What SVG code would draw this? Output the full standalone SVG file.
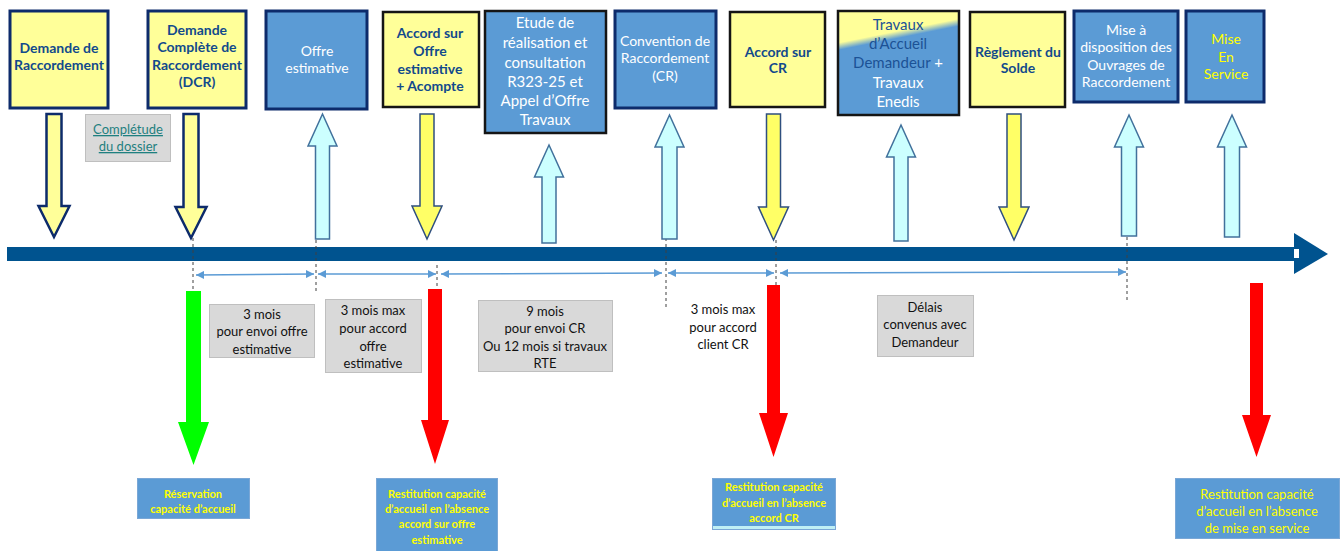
<svg xmlns="http://www.w3.org/2000/svg" width="1341" height="551" viewBox="0 0 1341 551">
<style>
text{font-family:Lato,"Liberation Sans",sans-serif;text-anchor:middle}
.yb{fill:#FFFF99;stroke:#0D2B6B;stroke-width:3}
.yb2{fill:#FFFF99;stroke:#151515;stroke-width:2.5}
.bb{fill:#5B9BD5;stroke:#0D2B6B;stroke-width:3}
.bb2{fill:#5B9BD5;stroke:#151515;stroke-width:2.5}
.tn{font-size:14px;font-weight:bold;fill:#124A8C}
.tw{font-size:14px;fill:#FFFFFF}
.ty{font-size:14px;fill:#FFFF00}
.dy1{fill:#FFFF99;stroke:#0D2B6B;stroke-width:2.5}
.dy2{fill:#FFFF66;stroke:#2F4F7F;stroke-width:1.5}
.uc{fill:#CCFFFF;stroke:#41719C;stroke-width:1.5}
.gray{fill:#D9D9D9;stroke:#BFBFBF;stroke-width:1}
.tg{font-size:13px;fill:#111111}
.dash{stroke:#404040;stroke-width:1;stroke-dasharray:3 3;fill:none}
.meas{stroke:#5B9BD5;stroke-width:1.5;fill:none;marker-start:url(#ah);marker-end:url(#ah)}
.rb{fill:#5B9BD5;stroke:#7AA7D6;stroke-width:1}
.tyb{font-size:11px;font-weight:bold;fill:#FFFF00}
</style>
<defs>
<marker id="ah" viewBox="0 0 10 10" refX="10" refY="5" markerWidth="8" markerHeight="8" markerUnits="userSpaceOnUse" orient="auto-start-reverse">
<path d="M0,0 L10,5 L0,10 Z" fill="#5B9BD5"/>
</marker>
<linearGradient id="trv" gradientUnits="userSpaceOnUse" x1="896" y1="24" x2="900" y2="44">
<stop offset="0" stop-color="#FFFF99"/>
<stop offset="0.35" stop-color="#FFFF99"/>
<stop offset="0.7" stop-color="#5B9BD5"/>
<stop offset="1" stop-color="#5B9BD5"/>
</linearGradient>
</defs>

<g id="timeline">
<rect x="7" y="247" width="1289" height="14" fill="#00538F"/>
<polygon points="1294,233 1328,254 1294,274" fill="#00538F"/>
<rect x="1294" y="249" width="5" height="9" fill="#FFFFFF"/>
</g>

<g id="connectors">
<line class="dash" x1="193" y1="238" x2="193" y2="290"/>
<line class="dash" x1="316" y1="240" x2="316" y2="292"/>
<line class="dash" x1="437" y1="265" x2="437" y2="290"/>
<line class="dash" x1="666" y1="238" x2="666" y2="309"/>
<line class="dash" x1="776" y1="240" x2="776" y2="285"/>
<line class="dash" x1="1127" y1="237" x2="1127" y2="301"/>
<line class="meas" x1="196" y1="275" x2="314" y2="274"/>
<line class="meas" x1="318" y1="274" x2="436" y2="274"/>
<line class="meas" x1="441" y1="274" x2="662" y2="273"/>
<line class="meas" x1="668" y1="273" x2="774" y2="273"/>
<line class="meas" x1="780" y1="273" x2="1126" y2="272"/>
<path class="dy1" d="M46.5,114 H61.5 V206 H69.5 L54,237 L38.5,206 H46.5 Z"/>
<path class="dy1" d="M183.5,114 H198.5 V207 H206.5 L191,238 L175.5,207 H183.5 Z"/>
<path class="uc" d="M322.5,114 L337,146 H329.5 V239 H315.5 V146 H308 Z"/>
<path class="dy2" d="M420,114 H434 V206 H442 L427,239 L412,206 H420 Z"/>
<path class="uc" d="M549,145 L563.5,177 H556 V243 H542 V177 H534.5 Z"/>
<path class="uc" d="M669.5,115 L684,147 H677 V239 H662 V147 H655 Z"/>
<path class="dy2" d="M766.5,114 H780.5 V207 H788.5 L773.5,240 L758.5,207 H766.5 Z"/>
<path class="uc" d="M901,125 L915.5,157 H908 V241 H894 V157 H886.5 Z"/>
<path class="dy2" d="M1007,114 H1021 V207 H1029 L1014,240 L999,207 H1007 Z"/>
<path class="uc" d="M1129,115 L1143.5,147 H1136.5 V236 H1121.5 V147 H1114.5 Z"/>
<path class="uc" d="M1232,115 L1246.5,147 H1239.5 V237 H1224.5 V147 H1217.5 Z"/>
<path fill="#00FF00" d="M186,291 H201 V422 H209 L193.5,465 L178,422 H186 Z"/>
<path fill="#FF0000" d="M428,289 H442 V420 H449 L435,464 L421,420 H428 Z"/>
<path fill="#FF0000" d="M767,285 H780 V413 H788 L773.5,457 L759,413 H767 Z"/>
<path fill="#FF0000" d="M1250,283 H1263 V415 H1271 L1256.5,457 L1242,415 H1250 Z"/>
</g>

<g id="n1">
<rect class="yb" x="10" y="11" width="98" height="97"/>
<text class="tn" x="59" y="53">Demande de</text>
<text class="tn" x="59" y="70">Raccordement</text>
</g>
<g id="n2">
<rect class="yb" x="148" y="11" width="98" height="97"/>
<text class="tn" x="197" y="35">Demande</text>
<text class="tn" x="197" y="52">Complète de</text>
<text class="tn" x="197" y="70">Raccordement</text>
<text class="tn" x="197" y="87">(DCR)</text>
</g>
<g id="n3">
<rect class="bb" x="266" y="11" width="101" height="98"/>
<text class="tw" x="317" y="56">Offre</text>
<text class="tw" x="317" y="73">estimative</text>
</g>
<g id="n4">
<rect class="yb2" x="383" y="12" width="96" height="95"/>
<text class="tn" x="430" y="38">Accord sur</text>
<text class="tn" x="430" y="56">Offre</text>
<text class="tn" x="430" y="74">estimative</text>
<text class="tn" x="430" y="91">+ Acompte</text>
</g>
<g id="n5">
<rect class="bb2" x="485" y="11" width="121" height="122"/>
<text class="tw" x="545" y="28" style="font-size:15px">Etude de</text>
<text class="tw" x="545" y="48" style="font-size:15px">réalisation et</text>
<text class="tw" x="545" y="68" style="font-size:15px">consultation</text>
<text class="tw" x="545" y="87" style="font-size:15px">R323-25 et</text>
<text class="tw" x="545" y="106" style="font-size:15px">Appel d’Offre</text>
<text class="tw" x="545" y="125" style="font-size:15px">Travaux</text>
</g>
<g id="n6">
<rect class="bb" x="615" y="11" width="101" height="97"/>
<text class="tw" x="665" y="46">Convention de</text>
<text class="tw" x="665" y="63">Raccordement</text>
<text class="tw" x="665" y="81">(CR)</text>
</g>
<g id="n7">
<rect class="yb2" x="730" y="12" width="95" height="95"/>
<text class="tn" x="778" y="57">Accord sur</text>
<text class="tn" x="778" y="73">CR</text>
</g>
<g id="n8">
<rect x="838" y="11" width="121" height="104" fill="url(#trv)" stroke="#151515" stroke-width="2.5"/>
<text x="898" y="30" style="font-size:15px;fill:#1B5296">Travaux</text>
<text x="898" y="49" style="font-size:15px;fill:#1B5296">d’Accueil</text>
<text x="898" y="68" style="font-size:15px;fill:#1B5296">Demandeur <tspan fill="#FFFFFF">+</tspan></text>
<text class="tw" x="898" y="88" style="font-size:15px">Travaux</text>
<text class="tw" x="898" y="107" style="font-size:15px">Enedis</text>
</g>
<g id="n9">
<rect class="yb2" x="970" y="12" width="95" height="95"/>
<text class="tn" x="1018" y="57">Règlement du</text>
<text class="tn" x="1018" y="73">Solde</text>
</g>
<g id="n10">
<rect class="bb" x="1074" y="11" width="104" height="91"/>
<text class="tw" x="1126" y="35">Mise à</text>
<text class="tw" x="1126" y="52">disposition des</text>
<text class="tw" x="1126" y="70">Ouvrages de</text>
<text class="tw" x="1126" y="87">Raccordement</text>
</g>
<g id="n11">
<rect class="bb" x="1186" y="11" width="78" height="91"/>
<text class="ty" x="1226" y="44">Mise</text>
<text class="ty" x="1226" y="62">En</text>
<text class="ty" x="1226" y="79">Service</text>
</g>

<g id="completude">
<rect class="gray" x="85.5" y="114.5" width="85" height="47"/>
<text x="128" y="134" style="font-size:13px;fill:#1F8080;text-decoration:underline">Complétude</text>
<text x="128" y="151" style="font-size:13px;fill:#1F8080;text-decoration:underline">du dossier</text>
</g>
<g id="d1">
<rect class="gray" x="209.5" y="304.5" width="105" height="53"/>
<text class="tg" x="262" y="319">3 mois</text>
<text class="tg" x="262" y="336">pour envoi offre</text>
<text class="tg" x="262" y="354">estimative</text>
</g>
<g id="d2">
<rect class="gray" x="325.5" y="299.5" width="96" height="73"/>
<text class="tg" x="373" y="315">3 mois max</text>
<text class="tg" x="373" y="333">pour accord</text>
<text class="tg" x="373" y="351">offre</text>
<text class="tg" x="373" y="368">estimative</text>
</g>
<g id="d3">
<rect class="gray" x="478.5" y="300.5" width="134" height="71"/>
<text class="tg" x="545" y="316">9 mois</text>
<text class="tg" x="545" y="333">pour envoi CR</text>
<text class="tg" x="545" y="351">Ou 12 mois si travaux</text>
<text class="tg" x="545" y="368">RTE</text>
</g>
<g id="d4">
<text class="tg" x="723" y="314">3 mois max</text>
<text class="tg" x="723" y="332">pour accord</text>
<text class="tg" x="723" y="349">client  CR</text>
</g>
<g id="d5">
<rect class="gray" x="877.5" y="295.5" width="96" height="61"/>
<text class="tg" x="925" y="312">Délais</text>
<text class="tg" x="925" y="329">convenus avec</text>
<text class="tg" x="925" y="347">Demandeur</text>
</g>

<g id="r1">
<rect class="rb" x="137.5" y="478.5" width="112" height="40"/>
<text class="tyb" x="193" y="498">Réservation</text>
<text class="tyb" x="193" y="513">capacité d’accueil</text>
</g>
<g id="r2">
<rect class="rb" x="376.5" y="478.5" width="121" height="73"/>
<text class="tyb" x="437" y="498">Restitution capacité</text>
<text class="tyb" x="437" y="513">d’accueil en l’absence</text>
<text class="tyb" x="437" y="528">accord sur offre</text>
<text class="tyb" x="437" y="544">estimative</text>
</g>
<g id="r3">
<rect class="rb" x="712.5" y="478.5" width="123" height="51"/>
<rect x="713" y="526" width="122" height="3" fill="#BFEFF5"/>
<text class="tyb" x="774" y="491">Restitution capacité</text>
<text class="tyb" x="774" y="507">d’accueil en l’absence</text>
<text class="tyb" x="774" y="522">accord CR</text>
</g>
<g id="r4">
<rect class="rb" x="1175.5" y="478.5" width="164" height="60"/>
<text class="ty" x="1257" y="499" style="font-size:13px">Restitution capacité</text>
<text class="ty" x="1257" y="516" style="font-size:13px">d’accueil en l’absence</text>
<text class="ty" x="1257" y="533" style="font-size:13px">de mise en service</text>
</g>
</svg>
